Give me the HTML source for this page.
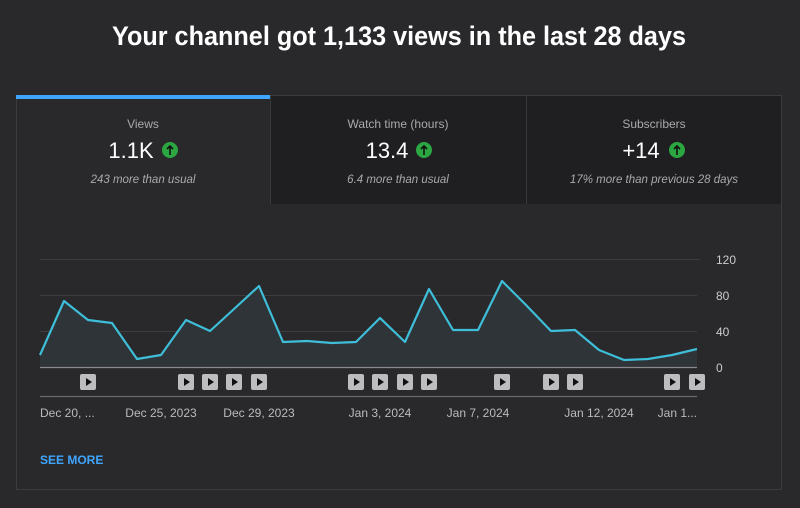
<!DOCTYPE html>
<html><head><meta charset="utf-8"><style>
html,body{margin:0;padding:0;background:#29282b;width:800px;height:508px;overflow:hidden;font-family:"Liberation Sans",sans-serif}
</style></head><body>
<svg width="800" height="508" xmlns="http://www.w3.org/2000/svg" font-family="Liberation Sans, sans-serif">
<rect width="800" height="508" fill="#29282b"/>
<text x="399" y="45" text-anchor="middle" font-size="27" font-weight="bold" fill="#fff" textLength="574" lengthAdjust="spacingAndGlyphs">Your channel got 1,133 views in the last 28 days</text>
<rect x="16.5" y="95.5" width="765" height="394" fill="#29282b" stroke="#3c3b3e"/>
<rect x="271" y="96" width="255" height="108" fill="#1f1e21"/>
<rect x="527" y="96" width="254" height="108" fill="#1f1e21"/>
<line x1="270.5" y1="96" x2="270.5" y2="204" stroke="#3a393c"/>
<line x1="526.5" y1="96" x2="526.5" y2="204" stroke="#3a393c"/>
<rect x="16" y="95" width="254" height="4" fill="#3ea6ff"/>
<g text-anchor="middle">
<text x="143" y="128" font-size="12" fill="#aaa">Views</text>
<text x="131" y="158" font-size="22" fill="#fff">1.1K</text>
<text x="143" y="183" font-size="11.5" font-style="italic" fill="#aaa">243 more than usual</text>
<text x="398" y="128" font-size="12" fill="#aaa">Watch time (hours)</text>
<text x="387" y="158" font-size="22" fill="#fff">13.4</text>
<text x="398" y="183" font-size="11.5" font-style="italic" fill="#aaa">6.4 more than usual</text>
<text x="654" y="128" font-size="12" fill="#aaa">Subscribers</text>
<text x="641" y="158" font-size="22" fill="#fff">+14</text>
<text x="654" y="183" font-size="11.5" font-style="italic" fill="#aaa">17% more than previous 28 days</text>
</g>
<g>
<circle cx="170" cy="150" r="8" fill="#2ba640"/><path d="M170 155V146M167 149L170 146L173 149" stroke="#111" stroke-width="1.6" fill="none"/>
<circle cx="424" cy="150" r="8" fill="#2ba640"/><path d="M424 155V146M421 149L424 146L427 149" stroke="#111" stroke-width="1.6" fill="none"/>
<circle cx="677" cy="150" r="8" fill="#2ba640"/><path d="M677 155V146M674 149L677 146L680 149" stroke="#111" stroke-width="1.6" fill="none"/>
</g>
<g stroke="#3d3c3f">
<line x1="40" y1="259.5" x2="700" y2="259.5"/>
<line x1="40" y1="295.5" x2="697" y2="295.5"/>
<line x1="40" y1="331.5" x2="697" y2="331.5"/>
</g>
<polygon fill="#2f3438" points="40,367 40,355 64,301 88,320 112,323 137,359 161,355 186,320 210,331 234,309 259,286 283,342 307,341 332,343 356,342 380,318 405,342 429,289 453,330 478,330 502,281 526,305 551,331 575,330 599,350 624,360 648,359 672,355 697,349 697,367"/>
<polyline fill="none" stroke="#3ebed8" stroke-width="2.2" stroke-linejoin="round" points="40,355 64,301 88,320 112,323 137,359 161,355 186,320 210,331 234,309 259,286 283,342 307,341 332,343 356,342 380,318 405,342 429,289 453,330 478,330 502,281 526,305 551,331 575,330 599,350 624,360 648,359 672,355 697,349"/>
<line x1="40" y1="367.5" x2="697" y2="367.5" stroke="#8a898c" stroke-width="1.2"/>
<line x1="40" y1="396.5" x2="697" y2="396.5" stroke="#6a696c" stroke-width="1.2"/>
<g font-size="12" fill="#ccc">
<text x="716" y="264">120</text><text x="716" y="300">80</text><text x="716" y="336">40</text><text x="716" y="372">0</text>
</g>
<g id="pl">
</g>
<g fill="#bdbcbe">
<rect x="80" y="374" width="16" height="16" rx="2"/><rect x="178" y="374" width="16" height="16" rx="2"/><rect x="202" y="374" width="16" height="16" rx="2"/><rect x="226" y="374" width="16" height="16" rx="2"/><rect x="251" y="374" width="16" height="16" rx="2"/><rect x="348" y="374" width="16" height="16" rx="2"/><rect x="372" y="374" width="16" height="16" rx="2"/><rect x="397" y="374" width="16" height="16" rx="2"/><rect x="421" y="374" width="16" height="16" rx="2"/><rect x="494" y="374" width="16" height="16" rx="2"/><rect x="543" y="374" width="16" height="16" rx="2"/><rect x="567" y="374" width="16" height="16" rx="2"/><rect x="664" y="374" width="16" height="16" rx="2"/><rect x="689" y="374" width="16" height="16" rx="2"/>
</g>
<g fill="#111">
<path d="M86 378v8l6-4z"/><path d="M184 378v8l6-4z"/><path d="M208 378v8l6-4z"/><path d="M232 378v8l6-4z"/><path d="M257 378v8l6-4z"/><path d="M354 378v8l6-4z"/><path d="M378 378v8l6-4z"/><path d="M403 378v8l6-4z"/><path d="M427 378v8l6-4z"/><path d="M500 378v8l6-4z"/><path d="M549 378v8l6-4z"/><path d="M573 378v8l6-4z"/><path d="M670 378v8l6-4z"/><path d="M695 378v8l6-4z"/>
</g>
<g font-size="12" fill="#bbb">
<text x="40" y="417">Dec 20, ...</text>
<text x="161" y="417" text-anchor="middle">Dec 25, 2023</text>
<text x="259" y="417" text-anchor="middle">Dec 29, 2023</text>
<text x="380" y="417" text-anchor="middle">Jan 3, 2024</text>
<text x="478" y="417" text-anchor="middle">Jan 7, 2024</text>
<text x="599" y="417" text-anchor="middle">Jan 12, 2024</text>
<text x="697" y="417" text-anchor="end">Jan 1...</text>
</g>
<text x="40" y="464" font-size="12" font-weight="bold" fill="#3ea6ff">SEE MORE</text>
</svg>
</body></html>
